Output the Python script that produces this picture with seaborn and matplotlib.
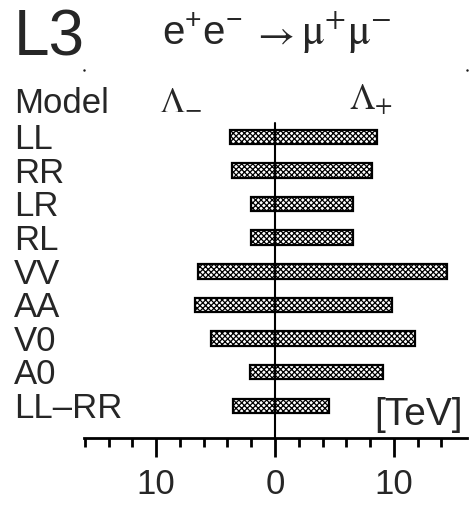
"""
L3 contact interaction limits, e+e- -> mu+mu-
Horizontal bars from -Lambda_minus to +Lambda_plus per model
"""

import pandas as pd
import matplotlib.pyplot as plt
import matplotlib.transforms as mtransforms
import seaborn as sns

sns.set_theme(style='white')
plt.rcParams['font.family'] = ['Liberation Sans', 'DejaVu Sans']
plt.rcParams['mathtext.fontset'] = 'custom'
plt.rcParams['mathtext.rm'] = 'Liberation Sans'
plt.rcParams['hatch.color'] = 'black'
plt.rcParams['hatch.linewidth'] = 0.9

# Data (TeV)
models = ['LL', 'RR', 'LR', 'RL', 'VV', 'AA', 'V0', 'A0', 'LL–RR']
lambda_minus = [3.8, 3.6, 2.0, 2.0, 6.5, 6.7, 5.4, 2.1, 3.5]
lambda_plus = [8.6, 8.2, 6.6, 6.6, 14.5, 9.8, 11.8, 9.1, 4.5]
tick_pos = [-10, 0, 10]
tick_labels = ['10', '0', '10']
minor_pos = [-16, -14, -12, -8, -6, -4, -2, 2, 4, 6, 8, 12, 14]

df = pd.DataFrame({'model': models,
                   'minus': [-v for v in lambda_minus],
                   'plus': lambda_plus})

fig = plt.figure(figsize=(4.71, 5.07), dpi=100)
ax = fig.add_axes([0.1783, 0.1361, 0.8132, 0.7258])

# left and right halves of each bar
for col in ['minus', 'plus']:
    sns.barplot(data=df, x=col, y='model', orient='h', width=0.43,
                color='white', saturation=1, edgecolor='black',
                linewidth=1.6, hatch='xxxxxx', ax=ax)

ax.set_xlim(-16.07, 16.15)
ax.set_ylim(8.96, -1.99)
ax.axvline(0, ymin=0, ymax=(8.96 + 0.42) / (8.96 + 1.99), color='black', lw=1.5)

# tiny frame corner marks seen at the top of the plot area
ax.plot([0, 1], [1, 1], 'k.', ms=1.5, transform=ax.transAxes, clip_on=False)

# axis styling
for s in ['left', 'top', 'right']:
    ax.spines[s].set_visible(False)
ax.spines['bottom'].set_linewidth(2)
ax.spines['bottom'].set_color('black')
ax.set_yticks([])
ax.set_xticks(tick_pos)
ax.set_xticklabels(tick_labels, fontsize=25)
ax.set_xticks(minor_pos, minor=True)
ax.tick_params(axis='x', which='major', direction='out', length=13.5, width=2,
               color='black', pad=8, bottom=True)
ax.tick_params(axis='x', which='minor', direction='out', length=6.5, width=2,
               color='black', bottom=True)
ax.set_xlabel('')
ax.set_ylabel('')

# model labels
trans = mtransforms.blended_transform_factory(ax.transAxes, ax.transData)
for i, m in enumerate(models):
    ax.text(-0.183, i + 0.08, m, transform=trans, ha='left', va='center', fontsize=25)
ax.text(-0.183, -0.98, 'Model', transform=trans, ha='left', va='center', fontsize=25)

ax.text(-9.75, -1.1, r'$\Lambda_{-}$', ha='left', va='center', fontsize=26,
        math_fontfamily='stix')
ax.text(6.2, -1.1, r'$\Lambda_{+}$', ha='left', va='center', fontsize=26,
        math_fontfamily='stix')

ax.text(0.99, 0.035, '[TeV]', transform=ax.transAxes, ha='right', va='baseline',
        fontsize=28)

# header
fig.text(0.03, 0.8915, 'L3', ha='left', va='baseline', fontsize=46)
fig.text(0.343, 0.911, r'$\mathregular{e^{+}e^{-}}$', ha='left', va='baseline',
         fontsize=29)
fig.text(0.535, 0.911, r'$\rightarrow$', ha='left', va='baseline', fontsize=29,
         math_fontfamily='stix')
fig.text(0.64, 0.911, r'$\mathrm{\mu^{+}\mu^{-}}$', ha='left', va='baseline',
         fontsize=31, math_fontfamily='stix')

plt.savefig('out.png', dpi=100)
plt.close()
